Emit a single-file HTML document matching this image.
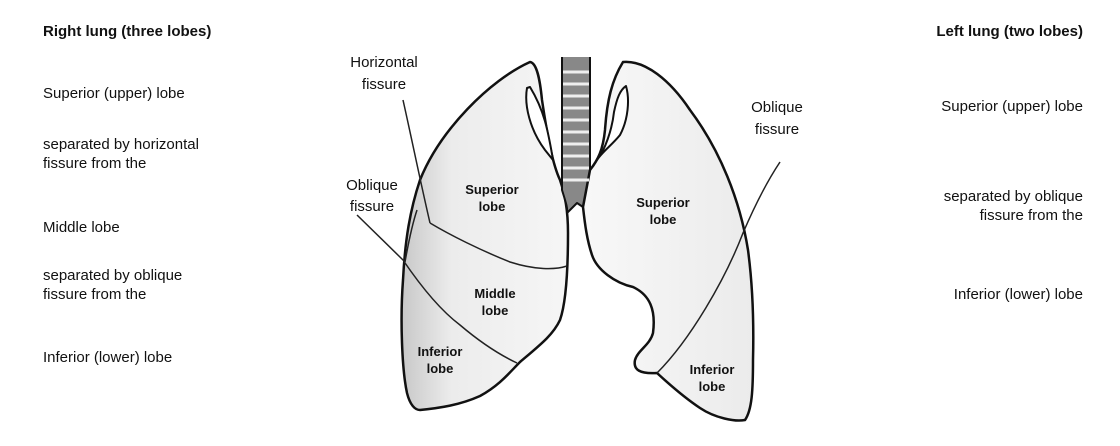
<!DOCTYPE html>
<html><head><meta charset="utf-8"><style>
html,body{margin:0;padding:0;background:#fff}
body{width:1120px;height:446px;position:relative;overflow:hidden;font-family:"Liberation Sans",Arial,sans-serif;color:#111}
.t{position:absolute;font-size:15px;line-height:19px;white-space:nowrap}
.b{font-weight:bold}
.r{text-align:right}
</style></head><body>
<div class="t b" style="left:43px;top:22px">Right lung (three lobes)</div>
<div class="t" style="left:43px;top:84px">Superior (upper) lobe</div>
<div class="t" style="left:43px;top:135px">separated by horizontal<br>fissure from the</div>
<div class="t" style="left:43px;top:218px">Middle lobe</div>
<div class="t" style="left:43px;top:266px">separated by oblique<br>fissure from the</div>
<div class="t" style="left:43px;top:348px">Inferior (lower) lobe</div>

<div class="t b r" style="right:37px;top:22px">Left lung (two lobes)</div>
<div class="t r" style="right:37px;top:97px">Superior (upper) lobe</div>
<div class="t r" style="right:37px;top:187px">separated by oblique<br>fissure from the</div>
<div class="t r" style="right:37px;top:285px">Inferior (lower) lobe</div>

<svg width="1120" height="446" style="position:absolute;left:0;top:0">
<defs>
<linearGradient id="g1" x1="0" x2="1" y1="0" y2="0">
<stop offset="0" stop-color="#c8c8c8"/><stop offset="0.3" stop-color="#ececec"/><stop offset="1" stop-color="#f6f6f6"/></linearGradient>
<linearGradient id="g2" x1="0" x2="1"><stop offset="0" stop-color="#f8f8f8"/><stop offset="1" stop-color="#ebebeb"/></linearGradient>
</defs>
<g stroke="#111" stroke-width="2.5" fill="none" stroke-linejoin="round">
<path fill="url(#g1)" d="M530,62 C490,80 440,130 420,180 C410,210 405,240 403,280 C400,320 402,370 407,393 C410,405 415,410 420,410 C440,408 460,405 480,396 C500,385 510,372 520,362 C540,345 553,335 560,320 C567,300 568,260 568,233 C568,210 565,195 560,180 C553,165 548,140 542,100 C540,80 537,63 530,62 Z"/>
<path stroke-width="2" fill="#fff" d="M527,88 C524,105 530,130 545,150 L553,160 C548,130 544,110 530,87 Z"/>
<path fill="#888" stroke-width="2" d="M562,57 L562,190 C565,200 568,208 567,213 L577,203 L583,207 C585,200 590,195 590,190 L590,57"/>
<path fill="url(#g2)" d="M623,62 C612,80 607,100 605,130 C603,150 598,160 590,170 L583,207 C585,225 587,240 592,255 C597,270 615,283 633,287 C650,295 656,310 653,333 C650,345 638,350 635,360 C633,370 640,374 657,373 C670,385 685,398 700,408 C715,418 735,422 745,420 C752,410 753,390 753,360 C754,320 752,280 748,250 C740,200 720,150 690,110 C670,80 645,60 623,62 Z"/>
<path stroke-width="2" fill="#fff" d="M626,86 C630,100 628,120 620,135 C612,145 602,152 597,160 C605,150 612,130 614,112 C617,98 620,90 626,86 Z"/>
</g>
<g stroke="#222" stroke-width="1.5" fill="none">
<path d="M430,223 C450,235 480,250 510,262 C535,270 555,270 567,266"/>
<path d="M403,260 C420,285 440,310 460,325 C480,342 500,355 517,363"/>
<path d="M417,210 C412,225 408,245 405,262"/>
<path d="M657,373 C690,340 725,280 743,233 C755,205 768,180 780,162"/>
<path d="M403,100 C412,140 420,180 430,223"/>
<path d="M357,215 L403,260"/>
<path d="M563,72 H589 M563,84 H589 M563,96 H589 M563,108 H589 M563,120 H589 M563,132 H589 M563,144 H589 M563,156 H589 M563,168 H589 M563,180 H589" stroke="#eee" stroke-width="3"/>
</g>
<g font-family="Liberation Sans,Arial,sans-serif" font-size="15" fill="#111">
<text x="384" y="67" text-anchor="middle">Horizontal</text>
<text x="384" y="89" text-anchor="middle">fissure</text>
<text x="372" y="190" text-anchor="middle">Oblique</text>
<text x="372" y="211" text-anchor="middle">fissure</text>
<text x="777" y="112" text-anchor="middle">Oblique</text>
<text x="777" y="134" text-anchor="middle">fissure</text>
</g>
<g font-family="Liberation Sans,Arial,sans-serif" font-size="13" font-weight="bold" fill="#111" text-anchor="middle">
<text x="492" y="194">Superior</text><text x="492" y="211">lobe</text>
<text x="663" y="207">Superior</text><text x="663" y="224">lobe</text>
<text x="495" y="298">Middle</text><text x="495" y="315">lobe</text>
<text x="440" y="356">Inferior</text><text x="440" y="373">lobe</text>
<text x="712" y="374">Inferior</text><text x="712" y="391">lobe</text>
</g>
</svg>
</body></html>
